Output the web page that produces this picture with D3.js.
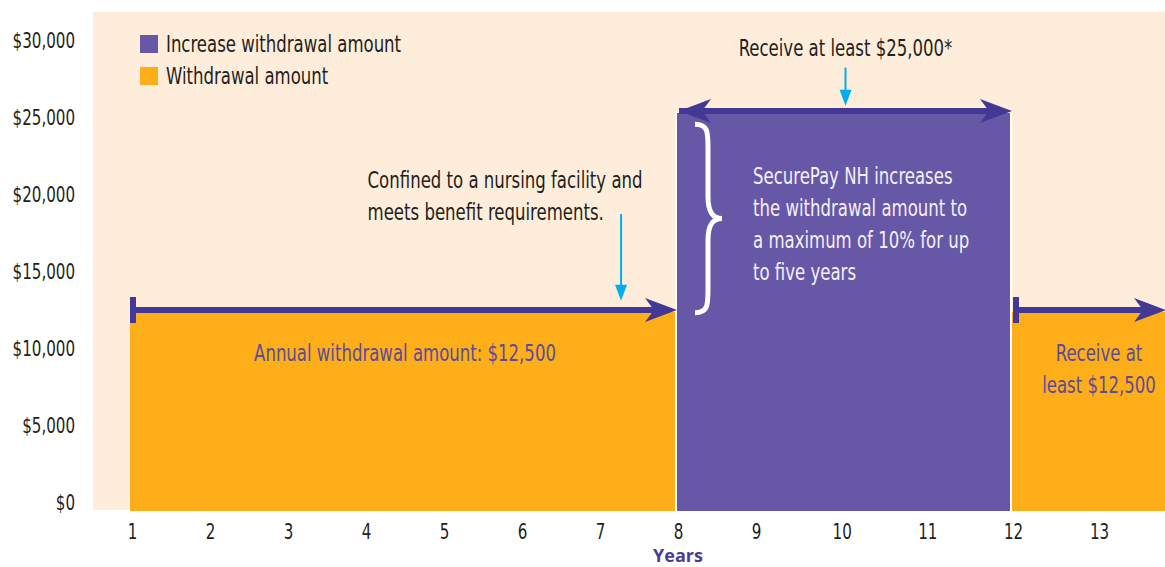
<!DOCTYPE html>
<html>
<head>
<meta charset="utf-8">
<script src="https://cdn.jsdelivr.net/npm/d3@7"></script>
<style>
  body { margin: 0; background: #fff; }
  text { font-family: "DejaVu Sans Condensed", "DejaVu Sans", sans-serif; }
</style>
</head>
<body>
<div class="container"></div>
<script>
// values
const yearTicks = [1, 2, 3, 4, 5, 6, 7, 8, 9, 10, 11, 12, 13];
const dollarTicks = [0, 5000, 10000, 15000, 20000, 25000, 30000];
const segStart = [1, 8, 12];
const segEnd = [8, 12, 14];
const segValue = [12500, 25000, 12500];
const segType = ["Withdrawal amount", "Increase withdrawal amount", "Withdrawal amount"];
const legendLabels = ["Increase withdrawal amount", "Withdrawal amount"];
const noteConfined = ["Confined to a nursing facility and", "meets benefit requirements."];
const noteIncrease = ["SecurePay NH increases", "the withdrawal amount to", "a maximum of 10% for up", "to five years"];
const noteReceiveHigh = "Receive at least $25,000*";
const noteAnnual = "Annual withdrawal amount: $12,500";
const noteReceiveLow = ["Receive at", "least $12,500"];

const width = 1165;
const height = 567;
const squeeze = 0.8; // the original face is a narrow one

const colors = {
    "Withdrawal amount": "#FDAE19",
    "Increase withdrawal amount": "#6757A7",
};
const arrowColor = "#433893";
const cyan = "#00AEEF";
const labelPurple = "#5B4B9F";
const ink = "#231F20";

const svg = d3.select(".container")
    .append("svg")
    .attr("width", width)
    .attr("height", height);

// the year spacing widens inside the purple section
const x = d3.scaleLinear()
    .domain([1, 8, 9, 12, 14])
    .range([132, 678, 756, 1013, 1185]);

// bar scale and the (slightly tighter) label scale
const y = d3.scaleLinear().domain([0, 30000]).range([511, 33.4]);
const yLabel = d3.scaleLinear().domain([0, 30000]).range([503, 41]);

const note = (parent, tx, ty, str, anchor, fill) =>
    parent.append("text")
        .attr("transform", `translate(${tx},${ty}) scale(${squeeze},1)`)
        .attr("text-anchor", anchor)
        .attr("font-size", "23px")
        .attr("fill", fill)
        .text(str);

// panel
svg.append("rect")
    .attr("x", 93)
    .attr("y", 12)
    .attr("width", width - 93)
    .attr("height", 498)
    .attr("fill", "#FEEDDA");

// bars
svg.selectAll("rect.bar")
    .data(segValue)
    .enter()
    .append("rect")
    .attr("class", "bar")
    .attr("x", (d, i) => x(segStart[i]) - 2)
    .attr("y", (d) => y(d))
    .attr("width", (d, i) => x(segEnd[i]) - x(segStart[i]))
    .attr("height", (d) => y(0) - y(d))
    .attr("fill", (d, i) => colors[segType[i]]);

// white seams either side of the increase block
svg.selectAll("line.seam")
    .data([segStart[1], segEnd[1]])
    .enter()
    .append("line")
    .attr("x1", (d) => x(d) - 2)
    .attr("x2", (d) => x(d) - 2)
    .attr("y1", y(segValue[1]))
    .attr("y2", y(0))
    .attr("stroke", "#fff")
    .attr("stroke-width", 2);

// y axis
const yAxis = svg.append("g")
    .attr("transform", "translate(75,0)")
    .call(d3.axisLeft(yLabel).tickValues(dollarTicks).tickSize(0).tickPadding(0).tickFormat(d3.format("$,")));
yAxis.select(".domain").remove();
yAxis.selectAll("text")
    .attr("font-size", "21px")
    .attr("font-family", null)
    .attr("transform", "scale(0.8,1)")
    .attr("fill", ink);

// x axis
const xAxis = svg.append("g")
    .attr("transform", `translate(0,${y(0)})`)
    .call(d3.axisBottom(x).tickValues(yearTicks).tickSize(0).tickPadding(13).tickFormat(d3.format("d")));
xAxis.select(".domain").remove();
xAxis.selectAll("text")
    .attr("font-size", "21px")
    .attr("font-family", null)
    .attr("transform", "scale(0.8,1)")
    .attr("fill", ink);

svg.append("text")
    .attr("x", x(8))
    .attr("y", 562)
    .attr("text-anchor", "middle")
    .attr("font-size", "18px")
    .style("font-weight", "bold")
    .style("font-family", "'Open Sans', sans-serif")
    .attr("fill", "#4A3C98")
    .text("Years");

// legend
const legend = svg.append("g").attr("transform", "translate(140,35)");
legend.selectAll("rect")
    .data(legendLabels)
    .enter()
    .append("rect")
    .attr("x", 0)
    .attr("y", (d, i) => i * 32)
    .attr("width", 18)
    .attr("height", 18)
    .attr("fill", (d) => colors[d]);
legendLabels.forEach((d, i) => note(legend, 26, i * 32 + 17, d, "start", ink));

// arrowheads
const headRight = (tx, ty) => `M${tx},${ty}L${tx - 32},${ty - 12}L${tx - 23},${ty}L${tx - 32},${ty + 12}Z`;
const headLeft = (tx, ty) => `M${tx},${ty}L${tx + 32},${ty - 12}L${tx + 23},${ty}L${tx + 32},${ty + 12}Z`;

const drawArrow = (x0, x1, yy, startHead) => {
    svg.append("line")
        .attr("x1", x0)
        .attr("x2", x1 - 20)
        .attr("y1", yy)
        .attr("y2", yy)
        .attr("stroke", arrowColor)
        .attr("stroke-width", 6);
    svg.append("path").attr("d", headRight(x1, yy)).attr("fill", arrowColor);
    if (startHead) {
        svg.append("path").attr("d", headLeft(x0, yy)).attr("fill", arrowColor);
    } else {
        svg.append("rect")
            .attr("x", x0)
            .attr("y", yy - 13)
            .attr("width", 6)
            .attr("height", 26)
            .attr("fill", arrowColor);
    }
};

drawArrow(x(segStart[0]) - 2, x(segEnd[0]) - 1, y(segValue[0]) - 2, false);
drawArrow(x(segStart[1]) + 1, x(segEnd[1]) - 1, y(segValue[1]) - 2, true);
drawArrow(x(segStart[2]), width + 1, y(segValue[2]) - 2, false);

// cyan pointers
const pointer = (px, yTop, yBottom) => {
    svg.append("line")
        .attr("x1", px)
        .attr("x2", px)
        .attr("y1", y(yTop))
        .attr("y2", y(yBottom) - 14)
        .attr("stroke", cyan)
        .attr("stroke-width", 2);
    svg.append("path")
        .attr("d", `M${px},${y(yBottom)}L${px - 6},${y(yBottom) - 16}L${px + 6},${y(yBottom) - 16}Z`)
        .attr("fill", cyan);
};
const midIncrease = (x(segStart[1]) + x(segEnd[1])) / 2;
pointer(midIncrease, 27850, 25450);
pointer(x(7.27), 18650, 13200);

// annotation texts
note(svg, midIncrease, 56, noteReceiveHigh, "middle", ink);
noteConfined.forEach((d, i) => note(svg, x(4.02), 188 + i * 32, d, "start", ink));
note(svg, x(4.5), 361, noteAnnual, "middle", labelPurple);
noteReceiveLow.forEach((d, i) => note(svg, x(13), 361 + i * 32, d, "middle", labelPurple));
noteIncrease.forEach((d, i) => note(svg, x(8) + 75, 184 + i * 32, d, "start", "#F3F1F8"));

// white brace beside the increase note
const bx = x(8) + 17;
const bTop = y(24300);
const bBot = y(12450);
const bMid = (bTop + bBot) / 2;
svg.append("path")
    .attr("d", `M${bx},${bTop}C${bx + 13},${bTop} ${bx + 13},${bTop + 8} ${bx + 13},${bTop + 24}`
        + `L${bx + 13},${bMid - 22}C${bx + 13},${bMid - 6} ${bx + 18},${bMid} ${bx + 27},${bMid}`
        + `C${bx + 18},${bMid} ${bx + 13},${bMid + 6} ${bx + 13},${bMid + 22}`
        + `L${bx + 13},${bBot - 24}C${bx + 13},${bBot - 8} ${bx + 13},${bBot} ${bx},${bBot}`)
    .attr("fill", "none")
    .attr("stroke", "#fff")
    .attr("stroke-width", 5);
</script>
</body>
</html>
